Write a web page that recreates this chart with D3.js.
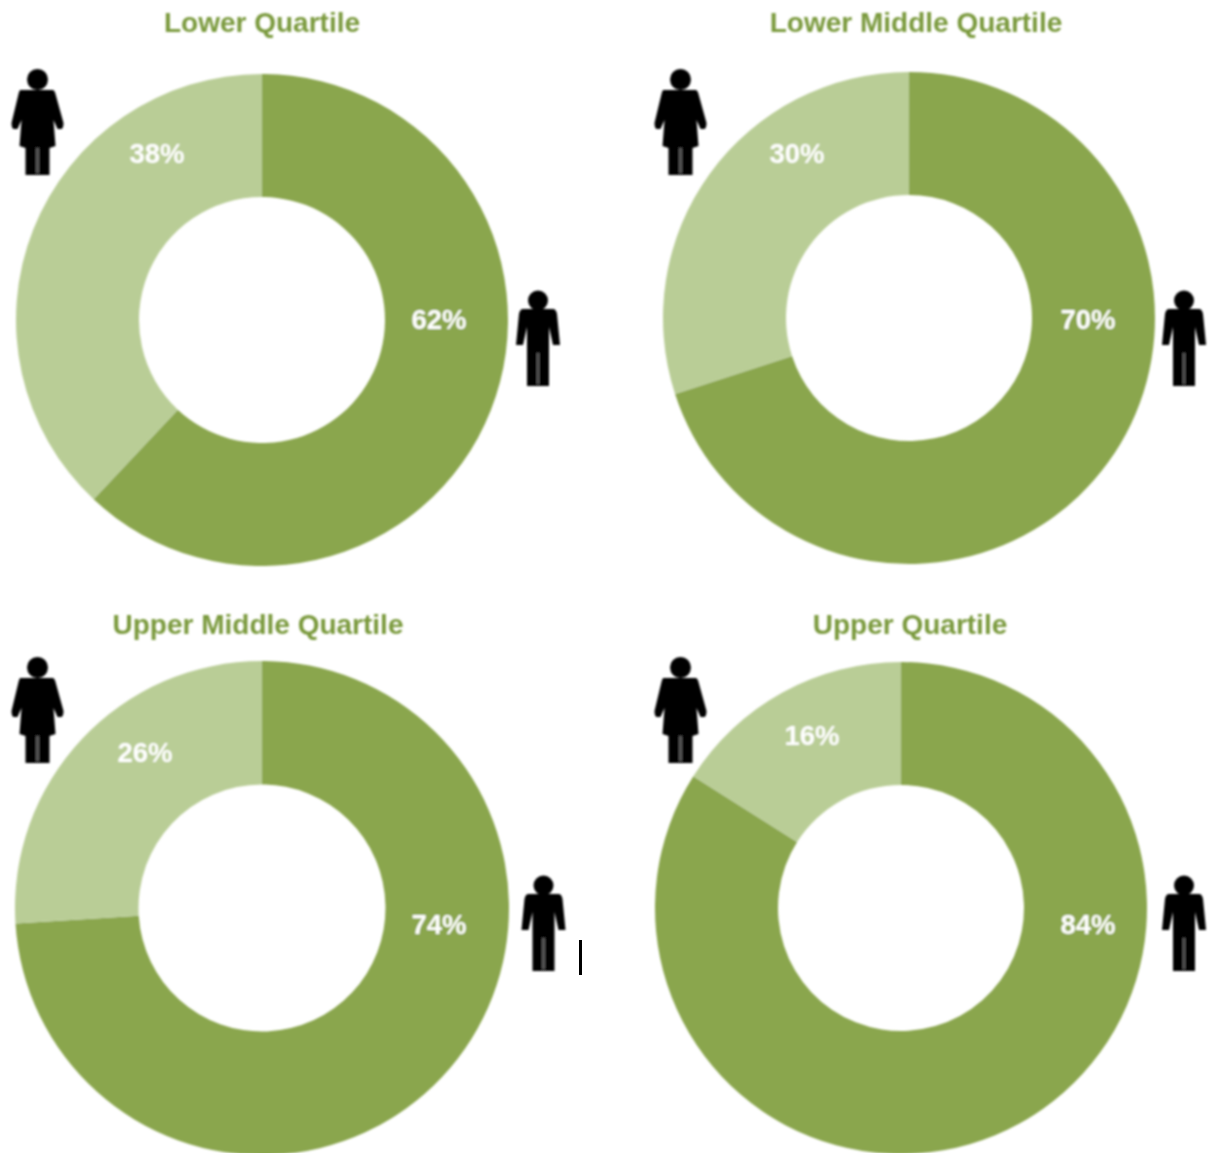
<!DOCTYPE html>
<html>
<head>
<meta charset="utf-8">
<script src="https://d3js.org/d3.v7.min.js"></script>
<style>
  body { margin: 0; background: #fff; }
  svg { display: block; }
  text { font-family: "Liberation Sans", Arial, sans-serif; font-weight: bold; }
</style>
</head>
<body>
<div id="chart"></div>
<script>
// values
var titles = ["Lower Quartile", "Lower Middle Quartile", "Upper Middle Quartile", "Upper Quartile"];
var malePct = [62, 70, 74, 84];
var femalePct = [38, 30, 26, 16];

var svgWidth = 1208;
var svgHeight = 1153;

var colors = { male: "#8aa64e", female: "#b9cd96", title: "#7a9a3e" };

// where each panel sits on the page
var panels = [
   { cx: 262, cy: 320, r: 246, titleX: 262, titleY: 32, maleLabel: [439, 329], femaleLabel: [157, 163], woman: [37.5, 70], man: [538, 291] },
   { cx: 909, cy: 318, r: 246, titleX: 916, titleY: 32, maleLabel: [1088, 329], femaleLabel: [797, 163], woman: [680.5, 70], man: [1184, 291] },
   { cx: 262, cy: 908, r: 247, titleX: 258, titleY: 634, maleLabel: [439, 934], femaleLabel: [145, 762], woman: [37.5, 658], man: [543.5, 876] },
   { cx: 901, cy: 908, r: 246, titleX: 910, titleY: 634, maleLabel: [1088, 934], femaleLabel: [812, 745], woman: [680.5, 658], man: [1184, 876] }
];

var svg = d3.select("#chart")
   .append("svg")
   .attr("width", svgWidth)
   .attr("height", svgHeight);

// the reference is a soft, upscaled image
var blur = svg.append("defs").append("filter").attr("id", "soft");
blur.append("feGaussianBlur").attr("stdDeviation", 0.8);

var pie = d3.pie().sort(null);

function drawWoman(g) {
   g.append("circle").attr("cx", 0).attr("cy", 9.5).attr("r", 10.5);
   g.append("path").attr("d",
      "M-17,20 L15,20 Q17,20 18,24 L26,53 Q26,58 24,59 L20,59 L16,50 L18,76 L12,78 L12,105 L-12,105 L-12,78 L-18,76 L-16,50 L-20,59 L-24,59 Q-26,58 -26,53 L-19,24 Q-18,20 -17,20 Z");
   // dim seam between the legs
   g.append("rect").attr("x", -1.5).attr("y", 78).attr("width", 3).attr("height", 25).attr("fill", "#555");
}

function drawMan(g) {
   g.append("circle").attr("cx", 0).attr("cy", 9.5).attr("r", 10);
   g.append("path").attr("d",
      "M-15,18 L15,18 Q18,18 19,23 L22,54 L15,54 L11,36 L11,95 L-11,95 L-11,36 L-15,54 L-22,54 L-19,23 Q-18,18 -15,18 Z");
   g.append("rect").attr("x", -1.5).attr("y", 62).attr("width", 3).attr("height", 31).attr("fill", "#555");
}

var root = svg.append("g").attr("filter", "url(#soft)");

panels.forEach(function (p, i) {
   var arc = d3.arc().innerRadius(p.r / 2).outerRadius(p.r);
   var g = root.append("g");

   g.append("g")
      .attr("transform", `translate(${p.cx}, ${p.cy})`)
      .selectAll("path")
      .data(pie([malePct[i], femalePct[i]]))
      .enter()
      .append("path")
      .attr("d", arc)
      .attr("fill", (d, j) => j === 0 ? colors.male : colors.female);

   g.append("text")
      .attr("x", p.titleX)
      .attr("y", p.titleY)
      .attr("text-anchor", "middle")
      .attr("font-size", 28)
      .attr("fill", colors.title)
      .text(titles[i]);

   g.append("text")
      .attr("x", p.maleLabel[0])
      .attr("y", p.maleLabel[1])
      .attr("text-anchor", "middle")
      .attr("font-size", 27.5)
      .attr("fill", "#fff")
      .text(malePct[i] + "%");

   g.append("text")
      .attr("x", p.femaleLabel[0])
      .attr("y", p.femaleLabel[1])
      .attr("text-anchor", "middle")
      .attr("font-size", 27.5)
      .attr("fill", "#fff")
      .text(femalePct[i] + "%");

   drawWoman(g.append("g").attr("transform", `translate(${p.woman[0]}, ${p.woman[1]})`));
   drawMan(g.append("g").attr("transform", `translate(${p.man[0]}, ${p.man[1]})`));
});

// stray cursor mark beside the third panel
svg.append("rect")
   .attr("x", 579)
   .attr("y", 940)
   .attr("width", 3)
   .attr("height", 35)
   .attr("fill", "#000");
</script>
</body>
</html>
